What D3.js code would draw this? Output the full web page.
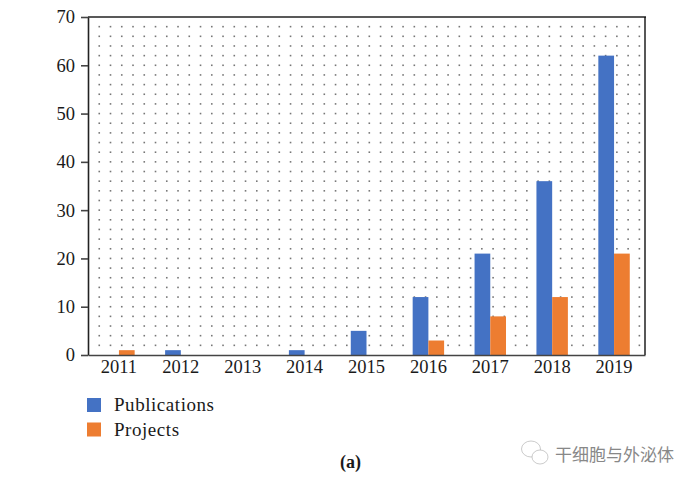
<!DOCTYPE html>
<html>
<head>
<meta charset="utf-8">
<script src="https://cdn.jsdelivr.net/npm/d3@7"></script>
<style>
html, body { margin: 0; padding: 0; background: #fff; }
text { font-family: "Liberation Serif", serif; fill: #1a1a1a; }
</style>
</head>
<body>
<div id="chart"></div>
<script>
var years = ["2011", "2012", "2013", "2014", "2015", "2016", "2017", "2018", "2019"];
var publications = [0, 1, 0, 1, 5, 12, 21, 36, 62];
var projects = [1, 0, 0, 0, 0, 3, 8, 12, 21];
var yTicks = [0, 10, 20, 30, 40, 50, 60, 70];
var seriesNames = ["Publications", "Projects"];
var seriesColors = ["#4472c4", "#ed7d31"];

var w = 696, h = 485;
var margin = { top: 17, right: 51, bottom: 130, left: 88 };

var svg = d3.select("#chart").append("svg")
    .attr("width", w)
    .attr("height", h)
    .style("display", "block");

var x = d3.scaleBand().domain(years).range([margin.left, w - margin.right]);
var y = d3.scaleLinear().domain([0, 70]).range([h - margin.bottom, margin.top]);
var barW = x.bandwidth() * 0.254;

// dotted background grid
var dots = svg.append("g");
var dotStepX = x.bandwidth() / 5.5;
for (var px = margin.left + dotStepX; px < w - margin.right - 2; px += dotStepX) {
    for (var v = 2; v < 70; v += 2) {
        dots.append("rect")
            .attr("x", px - 0.8)
            .attr("y", y(v) - 0.8)
            .attr("width", 1.6)
            .attr("height", 1.6)
            .attr("fill", "#777");
    }
}

// bars
[publications, projects].forEach(function(values, s) {
    svg.append("g").selectAll("rect")
        .data(values)
        .join("rect")
        .attr("x", function(d, i) { return x(years[i]) + x.bandwidth() / 2 + (s - 1) * barW; })
        .attr("y", function(d) { return y(d); })
        .attr("width", barW)
        .attr("height", function(d) { return y(0) - y(d); })
        .attr("fill", seriesColors[s]);
});

// frame
svg.append("line").attr("x1", margin.left).attr("x2", w - margin.right + 1)
    .attr("y1", margin.top).attr("y2", margin.top)
    .style("stroke", "#595959").style("stroke-width", 2);
svg.append("line").attr("x1", w - margin.right).attr("x2", w - margin.right)
    .attr("y1", margin.top).attr("y2", y(0))
    .style("stroke", "#111").style("stroke-width", 1.4);

// axes
var yAxis = svg.append("g")
    .attr("transform", "translate(" + margin.left + ",0)")
    .call(d3.axisLeft(y).tickValues(yTicks).tickSize(7).tickPadding(6).tickSizeOuter(0));
yAxis.select(".domain").style("stroke", "#222").style("stroke-width", 1.6);
yAxis.selectAll(".tick line").style("stroke", "#444").style("stroke-width", 1.6);
yAxis.selectAll("text").style("font-size", "18.5px").style("font-family", '"Liberation Serif", serif').attr("fill", "#1a1a1a");

var xAxis = svg.append("g")
    .attr("transform", "translate(0," + y(0) + ")")
    .call(d3.axisBottom(x).tickSize(0).tickPadding(5));
xAxis.select(".domain").style("stroke", "#444").style("stroke-width", 1.6);
xAxis.selectAll("text").style("font-size", "18.5px").style("font-family", '"Liberation Serif", serif').attr("fill", "#1a1a1a");

// legend
seriesNames.forEach(function(name, i) {
    var ly = 405 + i * 24.5;
    svg.append("rect")
        .attr("x", 87).attr("y", ly - 7)
        .attr("width", 14).attr("height", 14)
        .attr("fill", seriesColors[i]);
    svg.append("text")
        .attr("x", 114).attr("y", ly + 6)
        .style("font-size", "19px")
        .style("letter-spacing", "0.55px")
        .text(name);
});

// caption
svg.append("text")
    .attr("x", 350.5).attr("y", 468)
    .attr("text-anchor", "middle")
    .style("font-size", "18px")
    .style("font-weight", "bold")
    .text("(a)");

// watermark
var mark = svg.append("g").attr("fill", "none").attr("stroke", "#b5b5b5").attr("stroke-width", 0.7);
mark.append("ellipse").attr("cx", 531).attr("cy", 449).attr("rx", 9.5).attr("ry", 8);
mark.append("ellipse").attr("cx", 540).attr("cy", 457).attr("rx", 8).attr("ry", 7).attr("fill", "#fff");
svg.append("text")
    .attr("x", 555).attr("y", 460.5)
    .style("font-family", '"Noto Sans CJK SC", sans-serif')
    .style("font-size", "17px")
    .style("fill", "#888")
    .text("干细胞与外泌体");
</script>
</body>
</html>
